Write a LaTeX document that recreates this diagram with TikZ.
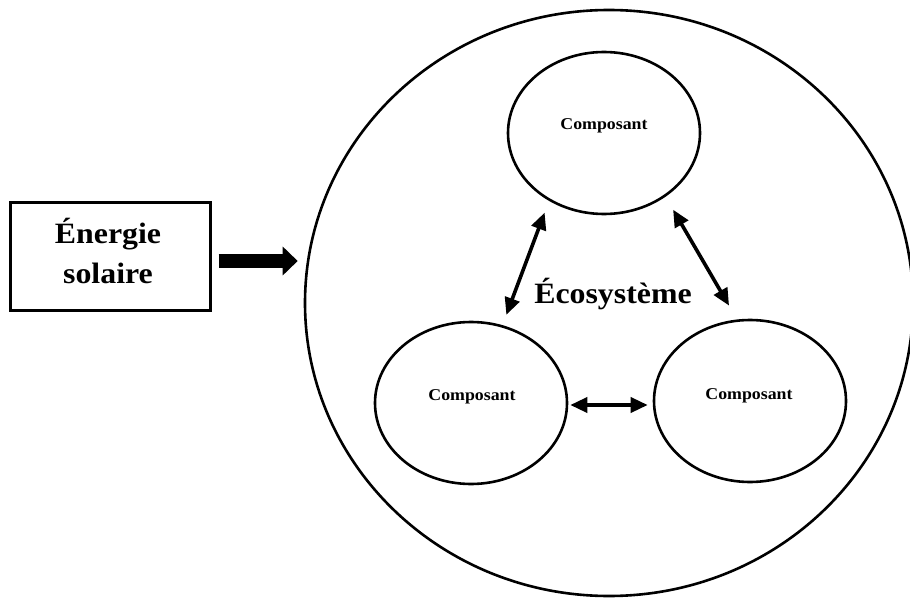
\documentclass[tikz,border=0pt]{standalone}
\usepackage{fontspec}
\setmainfont{Liberation Serif}[FakeStretch=1.08]
\usetikzlibrary{shapes.geometric,arrows.meta}
\begin{document}
\begin{tikzpicture}[x=1pt,y=-1pt,
  comp/.style={ellipse, draw, line width=2.6pt, minimum width=192pt, minimum height=162pt, inner sep=0pt},
  ctext/.style={font=\bfseries\fontsize{16.5}{18}\selectfont, anchor=base, inner sep=0pt},
  arr/.style={line width=3.6pt, {Triangle[length=17pt,width=15pt]}-{Triangle[length=17pt,width=15pt]}},
]
\useasboundingbox (0,0) rectangle (910,599);
% ecosystem container
\node[ellipse, draw, line width=2.6pt, minimum width=608pt, minimum height=586pt, inner sep=0pt] (eco) at (609,303) {};
\node[font=\bfseries\fontsize{29.5}{32}\selectfont, anchor=base, inner sep=0pt] (ecotext) at (613,303) {Écosystème};
% components
\node[comp] (c1) at (604,133) {};
\node[comp] (c2) at (471,403) {};
\node[comp] (c3) at (750,401) {};
\node[ctext] (t1) at (604,130) {Composant};
\node[ctext] (t2) at (472,400) {Composant};
\node[ctext] (t3) at (749,399) {Composant};
% solar energy box
\node[draw, line width=3pt, minimum width=200pt, minimum height=108pt, inner sep=0pt] (sun) at (110,256) {};
\node[font=\bfseries\fontsize{29.5}{40}\selectfont, align=center, anchor=base, inner sep=0pt] (suntext) at (108,283) {Énergie\\solaire};
% arrows
\draw[line width=14pt, -{Triangle[length=15pt,width=28pt]}, shorten <=7pt, shorten >=6pt]
  ([yshift=-5pt]sun.east) -- ([yshift=-5pt]sun.east -| eco.west);
\draw[arr, shorten <=11pt, shorten >=12.5pt] (c2.68.5) -- (c1.231.6);
\draw[arr, shorten <=15pt, shorten >=16pt] (c1.314.9) -- (c3.99.9);
\draw[arr, shorten <=2pt, shorten >=5pt] ([yshift=-2pt]c2.east) -- ([yshift=-2pt]c2.east -| c3.west);
\end{tikzpicture}
\end{document}
